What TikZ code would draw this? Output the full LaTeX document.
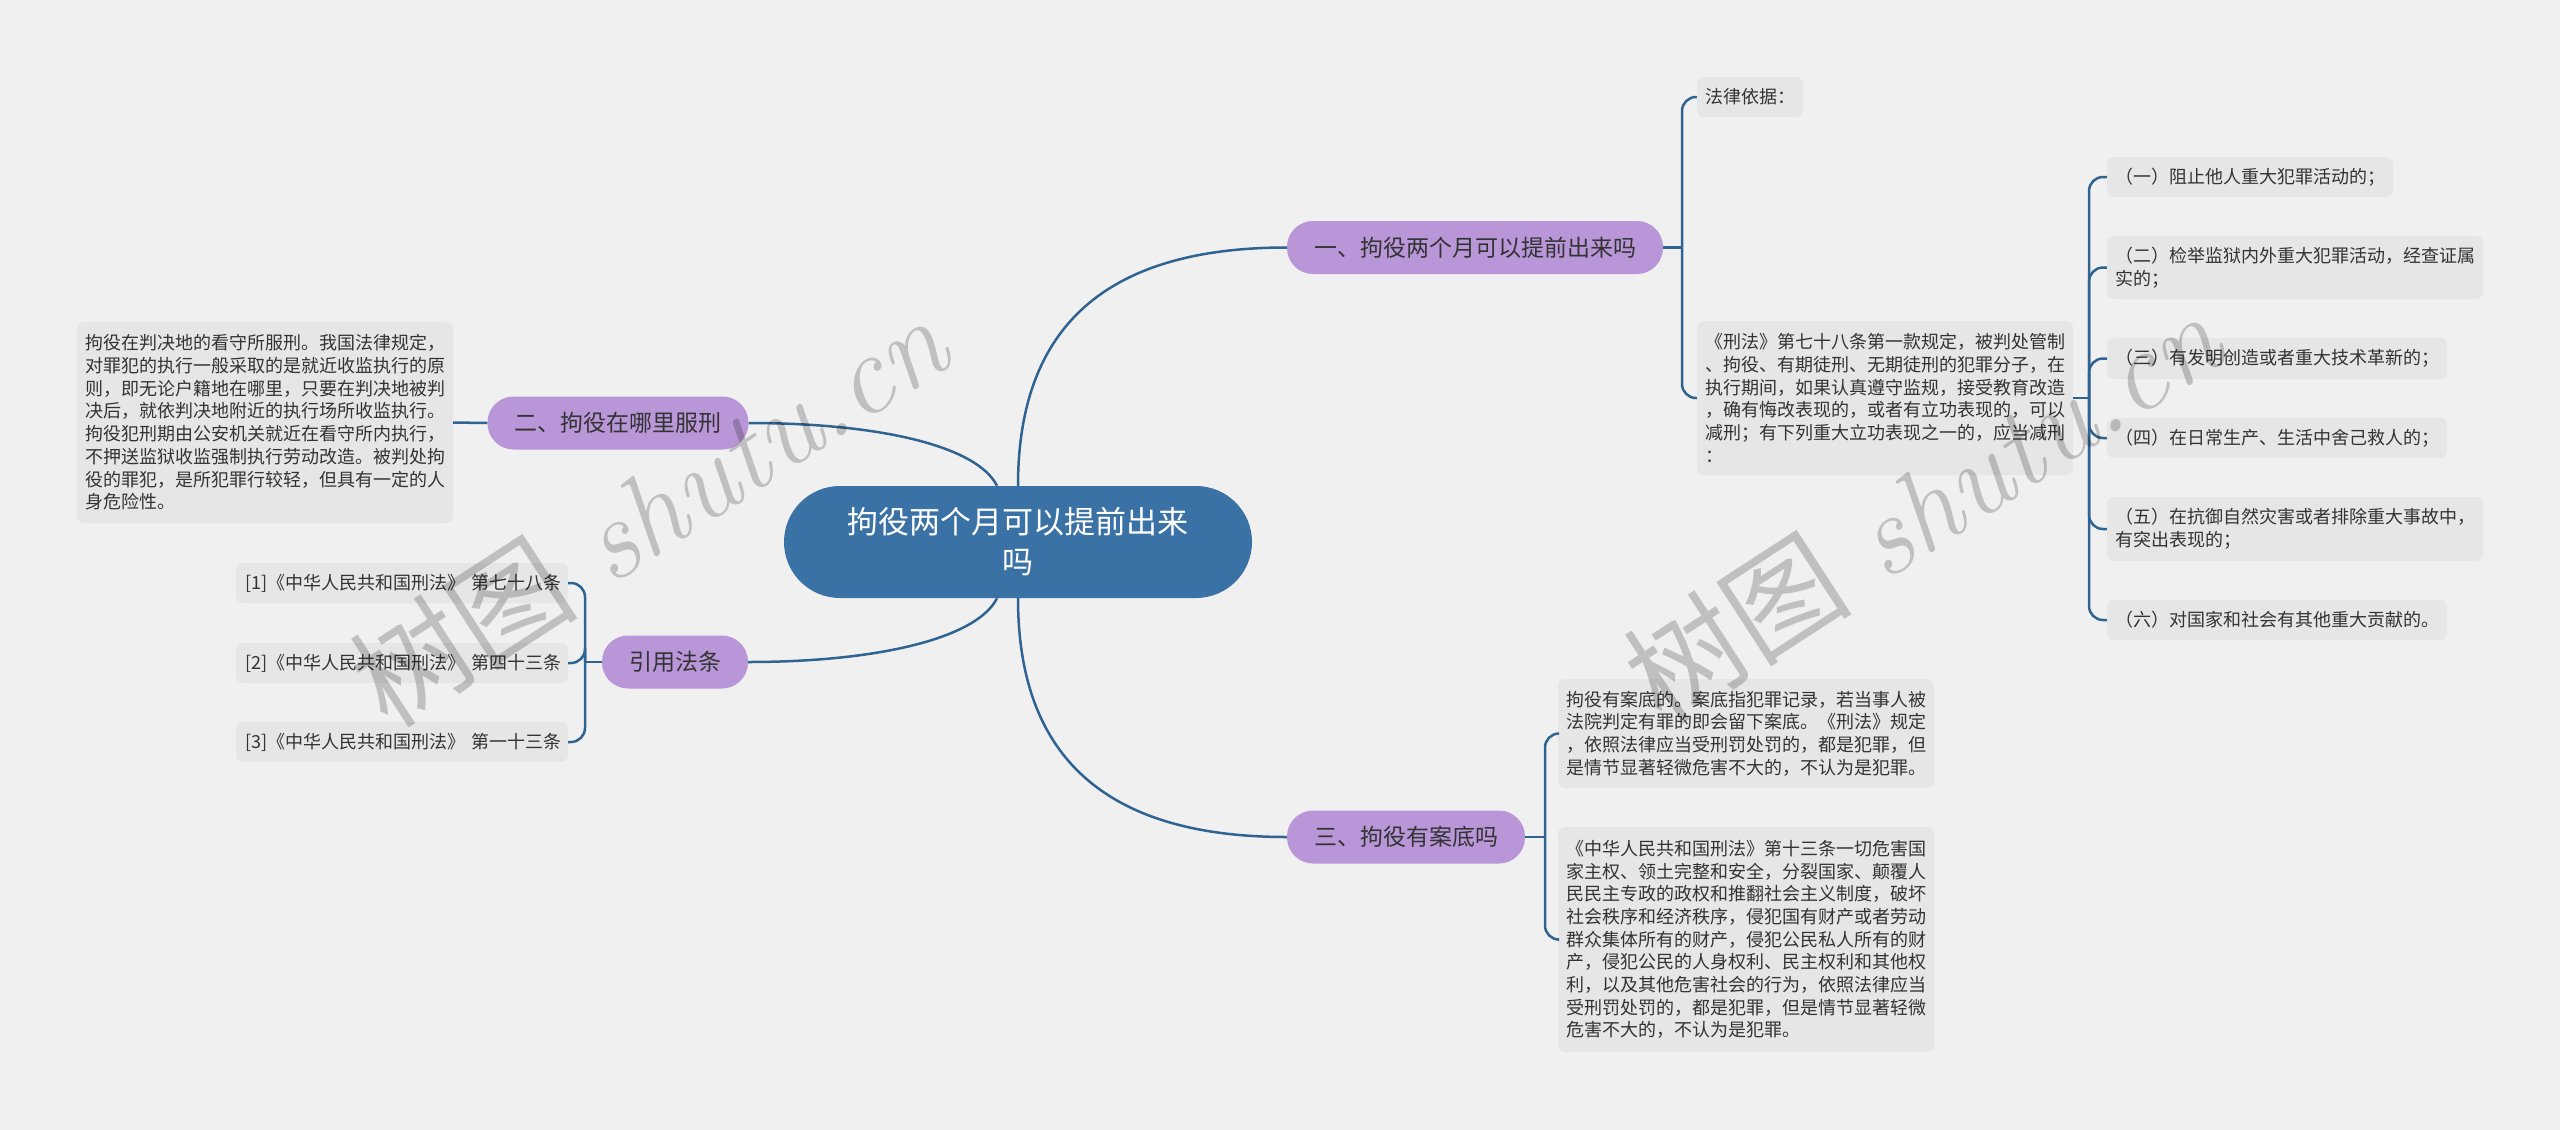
\documentclass[tikz,border=0pt]{standalone}
\usepackage{fontspec}
\newfontfamily\cjk{Noto Sans CJK SC}
\usetikzlibrary{calc}
\definecolor{bgc}{HTML}{F0F0F0}
\definecolor{leafbg}{HTML}{E6E6E6}
\definecolor{rootc}{HTML}{3B72A6}
\definecolor{branchc}{HTML}{B896D8}
\definecolor{linec}{HTML}{2F6391}
\definecolor{txtc}{HTML}{333333}
\tikzset{
  rootnode/.style={fill=rootc, text=white, rounded corners=56pt, minimum width=468pt,
    minimum height=112pt, align=center, inner sep=0pt, font=\cjk\fontsize{31}{40}\selectfont},
  branchnode/.style={fill=branchc, text=txtc, rounded corners=26pt, minimum height=53pt,
    inner xsep=27pt, inner ysep=0pt, font=\cjk\fontsize{23}{28}\selectfont},
  leafnode/.style={fill=leafbg, text=txtc, rounded corners=7pt, align=left,
    inner xsep=8pt, inner ysep=0pt, font=\cjk\fontsize{18}{22.7}\selectfont},
  conn/.style={draw=linec, line width=2.5pt},
  brk/.style={conn, rounded corners=14pt},
  wmark/.style={text=black, text opacity=0.2, font=\fontsize{115}{120}\selectfont, inner sep=0pt}
}
\begin{document}
\begin{tikzpicture}[x=1pt,y=-1pt]
\fill[bgc] (0,0) rectangle (2560,1130);
\useasboundingbox (0,0) rectangle (2560,1130);

% root
\node[rootnode] (root) at (1018,542) {拘役两个月可以提前出来\\吗};

% branches
\node[branchnode] (b1) at (1475,247.5) {一、拘役两个月可以提前出来吗};
\node[branchnode] (b2) at (618,423) {二、拘役在哪里服刑};
\node[branchnode] (b4) at (675,662) {引用法条};
\node[branchnode] (b3) at (1406,837) {三、拘役有案底吗};

% left text
\node[leafnode, text width=360pt, minimum height=201pt] (lt) at (265,422.5) {拘役在判决地的看守所服刑。我国法律规定，\\对罪犯的执行一般采取的是就近收监执行的原\\则，即无论户籍地在哪里，只要在判决地被判\\决后，就依判决地附近的执行场所收监执行。\\拘役犯刑期由公安机关就近在看守所内执行，\\不押送监狱收监强制执行劳动改造。被判处拘\\役的罪犯，是所犯罪行较轻，但具有一定的人\\身危险性。};

% references
\node[leafnode, text width=314pt, inner xsep=9pt, minimum height=40pt] (r1) at (402,583) {\mbox{[1]《中华人民共和国刑法》 第七十八条}};
\node[leafnode, text width=314pt, inner xsep=9pt, minimum height=40pt] (r2) at (402,663) {\mbox{[2]《中华人民共和国刑法》 第四十三条}};
\node[leafnode, text width=314pt, inner xsep=9pt, minimum height=40pt] (r3) at (402,742) {\mbox{[3]《中华人民共和国刑法》 第一十三条}};

% branch 1 leaves
\node[leafnode, text width=90pt, minimum height=40pt] (l1) at (1750,97) {法律依据：};
\node[leafnode, text width=360pt, minimum height=154pt] (l2) at (1885,398) {《刑法》第七十八条第一款规定，被判处管制\\、拘役、有期徒刑、无期徒刑的犯罪分子，在\\执行期间，如果认真遵守监规，接受教育改造\\，确有悔改表现的，或者有立功表现的，可以\\减刑；有下列重大立功表现之一的，应当减刑\\：};

% items
\node[leafnode, text width=270pt, minimum height=40pt] (i1) at (2250,177) {（一）阻止他人重大犯罪活动的；};
\node[leafnode, text width=360pt, minimum height=63pt] (i2) at (2295,267.5) {（二）检举监狱内外重大犯罪活动，经查证属\\实的；};
\node[leafnode, text width=324pt, minimum height=41pt] (i3) at (2277,358.5) {（三）有发明创造或者重大技术革新的；};
\node[leafnode, text width=324pt, minimum height=40pt] (i4) at (2277,438) {（四）在日常生产、生活中舍己救人的；};
\node[leafnode, text width=360pt, minimum height=64pt] (i5) at (2295,529) {（五）在抗御自然灾害或者排除重大事故中，\\有突出表现的；};
\node[leafnode, text width=324pt, minimum height=40pt] (i6) at (2277,620) {（六）对国家和社会有其他重大贡献的。};

% branch 3 leaves
\node[leafnode, text width=360pt, minimum height=109pt] (m1) at (1746,733.5) {拘役有案底的。案底指犯罪记录，若当事人被\\法院判定有罪的即会留下案底。《刑法》规定\\，依照法律应当受刑罚处罚的，都是犯罪，但\\是情节显著轻微危害不大的，不认为是犯罪。};
\node[leafnode, text width=360pt, minimum height=225pt] (m2) at (1746,939.5) {《中华人民共和国刑法》第十三条一切危害国\\家主权、领土完整和安全，分裂国家、颠覆人\\民民主专政的政权和推翻社会主义制度，破坏\\社会秩序和经济秩序，侵犯国有财产或者劳动\\群众集体所有的财产，侵犯公民私人所有的财\\产，侵犯公民的人身权利、民主权利和其他权\\利，以及其他危害社会的行为，依照法律应当\\受刑罚处罚的，都是犯罪，但是情节显著轻微\\危害不大的，不认为是犯罪。};

% root connectors
\draw[conn] (root.north) .. controls +(0,-160) and +(-180,0) .. (b1.west);
\draw[conn] ([xshift=-21pt]root.north) .. controls +(-20,-40) and +(130,0) .. (b2.east);
\draw[conn] ([xshift=-21pt]root.south) .. controls +(-20,40) and +(130,0) .. (b4.east);
\draw[conn] (root.south) .. controls +(0,160) and +(-180,0) .. (b3.west);

% branch 2
\draw[conn] (b2.west) -- (lt.east);

% branch 1 bracket
\coordinate (j1) at (1682,247.5);
\draw[conn] (b1.east) -- (j1);
\draw[brk] (j1) |- (l1.west);
\draw[brk] (j1) |- (l2.west);

% items bracket
\coordinate (j2) at (2089,398);
\draw[conn] (l2.east) -- (j2);
\foreach \n in {i1,i2,i3,i4,i5,i6} { \draw[brk] (j2) |- (\n.west); }

% branch 3 bracket
\coordinate (j3) at (1545,837);
\draw[conn] (b3.east) -- (j3);
\draw[brk] (j3) |- (m1.west);
\draw[brk] (j3) |- (m2.west);

% references bracket
\coordinate (j4) at (585,662);
\draw[conn] (b4.west) -- (j4);
\foreach \n in {r1,r2,r3} { \draw[brk] (j4) |- (\n.east); }

% watermarks
\node[wmark, rotate=33] (w1) at (648,510) {{\cjk 树图} \itshape shutu.cn};
\node[wmark, rotate=33] (w2) at (1922,506) {{\cjk 树图} \itshape shutu.cn};
\end{tikzpicture}
\end{document}
